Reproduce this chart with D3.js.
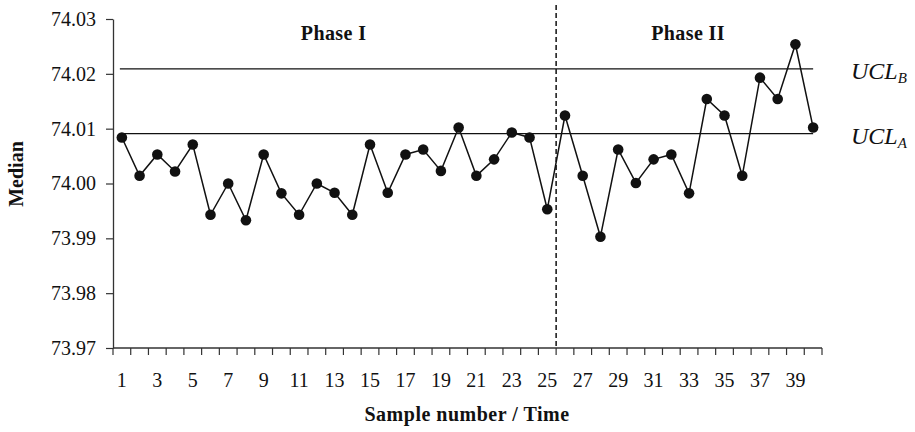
<!DOCTYPE html>
<html>
<head>
<meta charset="utf-8">
<script src="https://cdn.jsdelivr.net/npm/d3@7"></script>
<style>
  body { margin: 0; background: #fff; }
  svg { display: block; font-family: "Liberation Serif", "Times New Roman", serif; }
</style>
</head>
<body>
<svg id="chart" width="915" height="432"></svg>
<script>
const samples = d3.range(1, 41);
const medians = [
  74.0084, 74.0014, 74.0053, 74.0022, 74.0071, 73.9943, 74.0000, 73.9933, 74.0053, 73.9982,
  73.9943, 74.0000, 73.9983, 73.9943, 74.0071, 73.9983, 74.0053, 74.0062, 74.0023, 74.0102,
  74.0014, 74.0044, 74.0093, 74.0084, 73.9953, 74.0124, 74.0014, 73.9903, 74.0062, 74.0001,
  74.0044, 74.0053, 73.9982, 74.0154, 74.0124, 74.0014, 74.0193, 74.0154, 74.0254, 74.0102
];
const yTicks = [73.97, 73.98, 73.99, 74.00, 74.01, 74.02, 74.03];
const xTickLabels = d3.range(1, 41, 2);
const controlLimits = [
  { name: "UCL", sub: "B", value: 74.0209 },
  { name: "UCL", sub: "A", value: 74.0091 }
];
const phaseLabels = [
  { text: "Phase I", from: 1, to: 25 },
  { text: "Phase II", from: 26, to: 40 }
];
const phaseBoundary = 26;

const svg = d3.select("#chart");
const mLeft = 113, mRight = 822, mTop = 19, mBottom = 348;

const x = d3.scaleBand().domain(samples).range([mLeft, mRight]).padding(0);
const y = d3.scaleLinear().domain([73.97, 74.03]).range([mBottom, mTop]);
const cx = d => x(d) + x.bandwidth() / 2;

// Y axis
const yAxis = d3.axisLeft(y).tickValues(yTicks).tickFormat(d3.format(".2f")).tickSize(7).tickSizeOuter(0);
const gy = svg.append("g").attr("transform", `translate(${mLeft},0)`).call(yAxis);
gy.select(".domain").attr("stroke", "#333").attr("stroke-width", 1.3);
gy.selectAll(".tick line").attr("stroke", "#333").attr("stroke-width", 1.2);
gy.selectAll(".tick text").attr("font-size", 20).attr("fill", "#111")
  .attr("font-family", "Liberation Serif, serif").attr("x", -17);

// X axis: ticks at category boundaries, labels at centers
const gx = svg.append("g").attr("transform", `translate(0,${mBottom})`);
gx.append("line").attr("x1", mLeft).attr("x2", mRight).attr("y1", 0).attr("y2", 0)
  .attr("stroke", "#333").attr("stroke-width", 1.3);
const boundaries = samples.map(d => x(d)).concat([x(samples[samples.length - 1]) + x.bandwidth()]);
gx.selectAll("line.tk").data(boundaries).join("line").attr("class", "tk")
  .attr("x1", d => d).attr("x2", d => d).attr("y1", 0).attr("y2", 7)
  .attr("stroke", "#333").attr("stroke-width", 1.2);
gx.selectAll("text.lbl").data(xTickLabels).join("text").attr("class", "lbl")
  .attr("x", d => cx(d)).attr("y", 39).attr("text-anchor", "middle")
  .attr("font-size", 20).attr("fill", "#111").text(d => d);

// Control limit lines
svg.selectAll("line.cl").data(controlLimits).join("line").attr("class", "cl")
  .attr("x1", cx(1) - 2).attr("x2", cx(40))
  .attr("y1", d => y(d.value)).attr("y2", d => y(d.value))
  .attr("stroke", "#111").attr("stroke-width", 1.4);

const cl = svg.selectAll("text.cltxt").data(controlLimits).join("text").attr("class", "cltxt")
  .attr("x", 851).attr("y", d => y(d.value) + 10)
  .attr("font-size", 24).attr("font-style", "italic").attr("fill", "#111");
cl.append("tspan").text(d => d.name);
cl.append("tspan").attr("dy", 4).attr("font-size", 15).text(d => d.sub);

// Phase boundary
svg.append("line").attr("x1", x(phaseBoundary)).attr("x2", x(phaseBoundary))
  .attr("y1", 5).attr("y2", mBottom)
  .attr("stroke", "#111").attr("stroke-width", 1.5).attr("stroke-dasharray", "5,3");

// Phase labels
svg.selectAll("text.phase").data(phaseLabels)
  .join("text").attr("class", "phase")
  .attr("x", d => (x(d.from) + x(d.to) + x.bandwidth()) / 2 - 1).attr("y", 40).attr("text-anchor", "middle")
  .attr("font-size", 20).attr("letter-spacing", 0.4).attr("font-weight", "bold").attr("fill", "#111").text(d => d.text);

// Series line
const line = d3.line().x((d, i) => cx(samples[i])).y(d => y(d));
svg.append("path").datum(medians).attr("d", line)
  .attr("fill", "none").attr("stroke", "#111").attr("stroke-width", 1.5);
svg.selectAll("circle.pt").data(medians).join("circle").attr("class", "pt")
  .attr("cx", (d, i) => cx(samples[i])).attr("cy", d => y(d)).attr("r", 5.3)
  .attr("fill", "#111");

// Axis titles
svg.append("text").attr("transform", `translate(23,174) rotate(-90)`)
  .attr("text-anchor", "middle").attr("font-size", 20).attr("font-weight", "bold")
  .attr("fill", "#111").text("Median");
svg.append("text").attr("x", 467).attr("y", 421).attr("text-anchor", "middle")
  .attr("font-size", 20).attr("letter-spacing", 0.5).attr("font-weight", "bold").attr("fill", "#111")
  .text("Sample number / Time");
</script>
</body>
</html>
